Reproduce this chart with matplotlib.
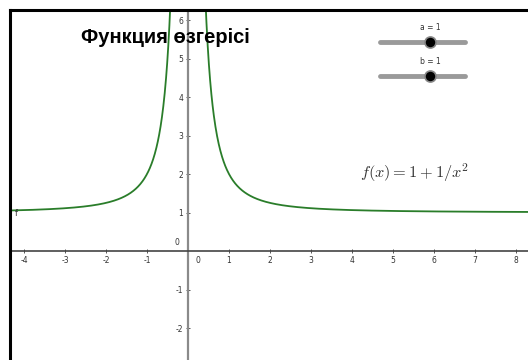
import numpy as np
import matplotlib
matplotlib.use("Agg")
from matplotlib import pyplot as plt
from matplotlib.lines import Line2D

# slider values
a = 1
b = 1

x_ticks = [-4, -3, -2, -1, 1, 2, 3, 4, 5, 6, 7, 8]
y_ticks = [-2, -1, 1, 2, 3, 4, 5, 6]
title = "Функция өзгерісі"
formula = r"$f(x) = 1 + 1/x^2$"

x_min, x_max = -4.317, 8.293
y_min, y_max = -2.831, 6.234

fig = plt.figure(figsize=(5.28, 3.6), dpi=100)
ax = fig.add_axes([11 / 528, 0, 517 / 528, 349 / 360])

# curve, split at the pole
for xs in (np.linspace(x_min, -0.3, 600), np.linspace(0.3, x_max, 800)):
    ax.plot(xs, a + b / xs ** 2, color="#2a7d2a", lw=1.3)

ax.set_xlim(x_min, x_max)
ax.set_ylim(y_min, y_max)

for s in ("top", "right"):
    ax.spines[s].set_visible(False)
ax.spines["left"].set_position(("data", 0))
ax.spines["bottom"].set_position(("data", 0))
ax.spines["left"].set_color("#8a8a8a")
ax.spines["left"].set_linewidth(1.6)
ax.spines["bottom"].set_color("#444444")
ax.spines["bottom"].set_linewidth(1.2)

ax.set_xticks(x_ticks)
ax.set_yticks(y_ticks)
ax.set_xticklabels([str(t) for t in x_ticks])
ax.set_yticklabels([str(t) for t in y_ticks])
ax.tick_params(axis="both", direction="inout", length=3, width=0.7,
               colors="#555555", labelsize=5.5, labelcolor="#333333", pad=2)
ax.text(0.18, -0.12, "0", fontsize=5.5, color="#333333", ha="left", va="top")
ax.text(-0.2, 0.1, "0", fontsize=5.5, color="#333333", ha="right", va="bottom")

# function name label
ax.text(-4.22, 1.1, "f", fontsize=6, color="#333333", va="top")

ax.text(0.135, 0.925, title, transform=ax.transAxes, fontsize=14.5,
        fontweight="bold", family=["Liberation Sans", "DejaVu Sans"],
        ha="left", va="center")
ax.text(0.676, 0.537, formula, transform=ax.transAxes, fontsize=11.8,
        color="#333333", math_fontfamily="cm", ha="left", va="center")

# sliders: (name, value, pixel row of the track)
for name, val, row in (("a", a, 42), ("b", b, 76)):
    yf = 1 - row / 360
    fig.add_artist(Line2D([380 / 528, 465 / 528], [yf, yf],
                          color="#9a9a9a", lw=3.5, solid_capstyle="round"))
    fig.text(430 / 528, yf + 14 / 360, f"{name} = {val}", fontsize=5.5,
             color="#333333", ha="center", va="center")
    fig.add_artist(Line2D([430 / 528], [yf], marker="o", markersize=8,
                          markerfacecolor="black", markeredgecolor="#888888",
                          markeredgewidth=1.2))

# frame
fig.add_artist(Line2D([10 / 528, 10 / 528], [0, 350 / 360], color="black", lw=2.2))
fig.add_artist(Line2D([10 / 528, 1], [350 / 360, 350 / 360], color="black", lw=2.2))

fig.savefig("out.png", dpi=100)
